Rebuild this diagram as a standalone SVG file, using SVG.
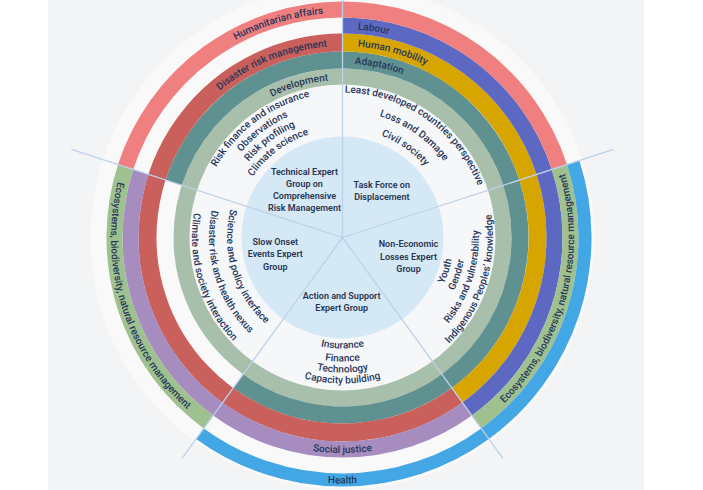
<svg xmlns="http://www.w3.org/2000/svg" width="703" height="490" viewBox="0 0 703 490">
<style>
.ring{fill:none;}
.t{font-family:Roboto,"Liberation Sans",Arial,sans-serif;font-size:10px;font-weight:500;fill:#27365a;}
.c{font-family:Roboto,"Liberation Sans",Arial,sans-serif;font-size:9px;font-weight:600;fill:#2a3550;text-anchor:middle;}
.sp{stroke:#bdd1ea;stroke-width:1.3;fill:none;}
</style>
<defs>
<path id="pHum" d="M131.54,160.72 A224.5,224.5 0 0 1 323.32,13.82"/>
<path id="pDrm" d="M162.55,172.00 A191.5,191.5 0 0 1 327.14,46.62"/>
<path id="pDev" d="M206.10,158.75 A157.5,157.5 0 0 1 328.23,80.65"/>
<path id="pLab" d="M357.77,29.56 A208.5,208.5 0 0 1 523.07,133.25"/>
<path id="pHm" d="M357.86,46.62 A191.5,191.5 0 0 1 508.34,141.75"/>
<path id="pAd" d="M354.64,63.92 A174,174 0 0 1 493.19,150.5"/>
<path id="pSj" d="M155.87,345.25 A215.5,215.5 0 0 0 529.13,345.25"/>
<path id="pHe" d="M129.46,360.5 A246,246 0 0 0 555.54,360.5"/>
<path id="pEcR" d="M403.20,460.90 A231.5,231.5 0 0 0 505.62,73.23"/>
<path id="pEcL" d="M173.19,79.62 A231.5,231.5 0 0 0 290.42,463.07"/>
<path id="tl1" d="M199.08,255.11 A144.5,144.5 0 0 1 398.96,104.49"/>
<path id="tl2" d="M210.99,253.65 A132.5,132.5 0 0 1 394.27,115.53"/>
<path id="tl3" d="M222.90,252.19 A120.5,120.5 0 0 1 389.58,126.58"/>
<path id="tl4" d="M234.81,250.72 A108.5,108.5 0 0 1 384.89,137.63"/>
<path id="tr1" d="M281.22,106.09 A145,145 0 0 1 486.95,250.14"/>
<path id="tr2" d="M288.83,122.40 A127,127 0 0 1 469.02,248.57"/>
<path id="tr3" d="M296.43,138.71 A109,109 0 0 1 451.08,247.00"/>
<path id="r1" d="M365.68,346.56 A111.5,111.5 0 0 0 425.36,162.89"/>
<path id="r2" d="M368.18,358.30 A123.5,123.5 0 0 0 434.28,154.86"/>
<path id="r3" d="M370.88,371.02 A136.5,136.5 0 0 0 443.94,146.16"/>
<path id="r4" d="M373.79,384.71 A150.5,150.5 0 0 0 454.34,136.80"/>
<path id="b1" d="M246.37,293 A111,111 0 0 0 438.63,293"/>
<path id="b2" d="M235.11,299.5 A124,124 0 0 0 449.89,299.5"/>
<path id="b3" d="M225.59,305 A135,135 0 0 0 459.41,305"/>
<path id="b4" d="M216.06,310.5 A146,146 0 0 0 468.94,310.5"/>
<path id="l1" d="M258.03,158.73 A115.5,115.5 0 0 0 316.52,350.04"/>
<path id="l2" d="M244.86,146.45 A133.5,133.5 0 0 0 312.47,367.58"/>
<path id="l3" d="M232.43,134.86 A150.5,150.5 0 0 0 308.65,384.14"/>
</defs>
<rect x="48" y="0" width="596" height="490" fill="#f3f4f5"/>
<circle cx="342.5" cy="237.5" r="252" fill="#f9f9f9"/>
<circle cx="342.5" cy="237.5" r="153" fill="#f6f7f9"/>

<g id="development">
<circle class="ring" cx="342.5" cy="237.5" r="161" stroke="#a8bfab" stroke-width="16"/>
<text class="t"><textPath href="#pDev" startOffset="100%" text-anchor="end">Development</textPath></text>
</g>
<g id="adaptation">
<path class="ring" d="M173.69,182.65 A177.5,177.5 0 1 1 238.17,381.10" stroke="#5f9191" stroke-width="17"/>
<text class="t"><textPath href="#pAd">Adaptation</textPath></text>
</g>
<g id="disaster-risk-management">
<path class="ring" d="M342.5,42.5 A195,195 0 1 0 457.12,395.26" stroke="#c9605c" stroke-width="18"/>
<text class="t"><textPath href="#pDrm" startOffset="100%" text-anchor="end">Disaster risk management</textPath></text>
</g>
<g id="human-mobility">
<path class="ring" d="M342.5,42.5 A195,195 0 0 1 457.12,395.26" stroke="#d6a500" stroke-width="18"/>
<text class="t"><textPath href="#pHm">Human mobility</textPath></text>
</g>
<g id="labour">
<path class="ring" d="M342.5,25.5 A212,212 0 0 1 467.11,409.01" stroke="#5c68c1" stroke-width="16"/>
<text class="t"><textPath href="#pLab">Labour</textPath></text>
</g>
<g id="social-justice">
<path class="ring" d="M140.88,171.99 A212,212 0 0 0 467.11,409.01" stroke="#a78cc0" stroke-width="16"/>
<text class="t"><textPath href="#pSj" startOffset="50%" text-anchor="middle">Social justice</textPath></text>
</g>
<g id="humanitarian-affairs">
<path class="ring" d="M559.34,167.04 A228,228 0 0 0 125.66,167.04" stroke="#f07f7f" stroke-width="16"/>
<text class="t"><textPath href="#pHum" startOffset="100%" text-anchor="end">Humanitarian affairs</textPath></text>
</g>
<g id="ecosystems-right">
<path class="ring" d="M559.34,167.04 A228,228 0 0 1 476.52,421.96" stroke="#9ec18f" stroke-width="16"/>
<text class="t"><textPath href="#pEcR" startOffset="50%" text-anchor="middle">Ecosystems, biodiversity, natural resource management</textPath></text>
</g>
<g id="ecosystems-left">
<path class="ring" d="M125.66,167.04 A228,228 0 0 0 208.48,421.96" stroke="#9ec18f" stroke-width="16"/>
<text class="t"><textPath href="#pEcL" startOffset="50%" text-anchor="middle">Ecosystems, biodiversity, natural resource management</textPath></text>
</g>
<g id="health">
<path class="ring" d="M573.13,162.56 A242.5,242.5 0 0 1 199.96,433.69" stroke="#43a6e5" stroke-width="13"/>
<text class="t"><textPath href="#pHe" startOffset="50%" text-anchor="middle">Health</textPath></text>
</g>

<circle cx="342.5" cy="237.5" r="101" fill="#d5e8f6"/>

<g id="connectors">
<line class="sp" x1="342.5" y1="237.5" x2="342.5" y2="-50"/>
<line class="sp" x1="342.5" y1="237.5" x2="613.55" y2="149.43"/>
<line class="sp" x1="342.5" y1="237.5" x2="71.45" y2="149.43"/>
<line class="sp" x1="342.5" y1="237.5" x2="502.97" y2="458.36"/>
<line class="sp" x1="342.5" y1="237.5" x2="182.03" y2="458.36"/>
</g>

<g id="technical-expert-group">
<text class="c" x="304.5" y="175">Technical Expert</text>
<text class="c" x="304.5" y="187">Group on</text>
<text class="c" x="304.5" y="199">Comprehensive</text>
<text class="c" x="304.5" y="211">Risk Management</text>
<text class="t" text-anchor="middle"><textPath href="#tl1" startOffset="50%">Risk finance and insurance</textPath></text>
<text class="t" text-anchor="middle"><textPath href="#tl2" startOffset="50%">Observations</textPath></text>
<text class="t" text-anchor="middle"><textPath href="#tl3" startOffset="50%">Risk profiling</textPath></text>
<text class="t" text-anchor="middle"><textPath href="#tl4" startOffset="50%">Climate science</textPath></text>
</g>
<g id="task-force-displacement">
<text class="c" x="381.8" y="188">Task Force on</text>
<text class="c" x="381.8" y="200">Displacement</text>
<text class="t" text-anchor="middle"><textPath href="#tr1" startOffset="50%">Least developed countries perspective</textPath></text>
<text class="t" text-anchor="middle"><textPath href="#tr2" startOffset="50%">Loss and Damage</textPath></text>
<text class="t" text-anchor="middle"><textPath href="#tr3" startOffset="50%">Civil society</textPath></text>
</g>
<g id="non-economic-losses">
<text class="c" x="408.5" y="247">Non-Economic</text>
<text class="c" x="408.5" y="259.5">Losses Expert</text>
<text class="c" x="408.5" y="271.5">Group</text>
<text class="t" text-anchor="middle"><textPath href="#r1" startOffset="50%">Youth</textPath></text>
<text class="t" text-anchor="middle"><textPath href="#r2" startOffset="50%">Gender</textPath></text>
<text class="t" text-anchor="middle"><textPath href="#r3" startOffset="50%">Risks and vulnerability</textPath></text>
<text class="t" text-anchor="middle"><textPath href="#r4" startOffset="50%">Indigenous Peoples’ knowledge</textPath></text>
</g>
<g id="action-support">
<text class="c" x="341.7" y="299">Action and Support</text>
<text class="c" x="341.7" y="310.5">Expert Group</text>
<text class="t" text-anchor="middle"><textPath href="#b1" startOffset="50%">Insurance</textPath></text>
<text class="t" text-anchor="middle"><textPath href="#b2" startOffset="50%">Finance</textPath></text>
<text class="t" text-anchor="middle"><textPath href="#b3" startOffset="50%">Technology</textPath></text>
<text class="t" text-anchor="middle"><textPath href="#b4" startOffset="50%">Capacity building</textPath></text>
</g>
<g id="slow-onset-events">
<text class="c" x="275.3" y="245">Slow Onset</text>
<text class="c" x="275.3" y="257">Events Expert</text>
<text class="c" x="275.3" y="269.5">Group</text>
<text class="t" text-anchor="middle"><textPath href="#l1" startOffset="50%">Science and policy interface</textPath></text>
<text class="t" text-anchor="middle"><textPath href="#l2" startOffset="50%">Disaster risk and health nexus</textPath></text>
<text class="t" text-anchor="middle"><textPath href="#l3" startOffset="50%">Climate and society interaction</textPath></text>
</g>
</svg>
